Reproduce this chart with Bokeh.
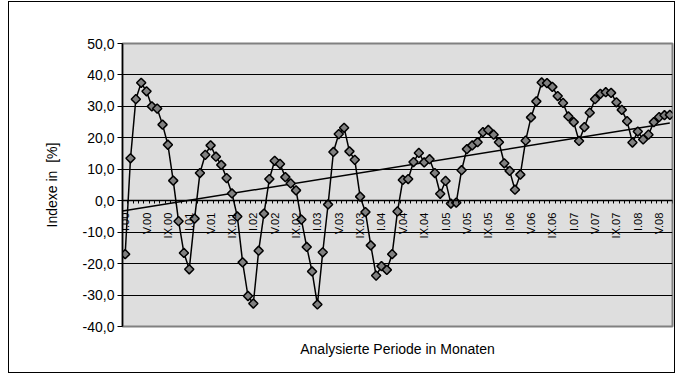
import numpy as np
from bokeh.plotting import figure
from bokeh.models import FixedTicker, LinearAxis, Range1d, Title
from bokeh.embed import file_html
from bokeh.resources import INLINE

# monthly index values, I.00 .. VII.08
values = [
    -17.0, 13.5, 32.3, 37.5, 34.8, 30.0, 29.3, 24.2, 17.8, 6.4, -6.5, -16.6,
    -21.8, -5.7, 8.8, 14.6, 17.6, 14.0, 11.4, 7.2, 2.3, -5.0, -19.6, -30.3,
    -32.7, -15.9, -4.1, 6.9, 12.7, 11.7, 7.5, 5.5, 3.3, -6.0, -14.7, -22.5,
    -33.0, -16.4, -1.2, 15.5, 21.2, 23.2, 15.7, 13.0, 1.3, -3.6, -14.2, -23.8,
    -20.8, -22.0, -17.0, -3.4, 6.6, 6.9, 12.3, 15.2, 12.2, 13.2, 8.8, 2.2,
    6.3, -0.9, -0.6, 9.7, 16.4, 17.6, 18.6, 21.8, 22.5, 21.0, 18.6, 11.9,
    9.5, 3.5, 8.3, 19.1, 26.5, 31.6, 37.6, 37.4, 36.2, 33.3, 31.1, 26.8,
    25.0, 19.0, 23.4, 28.0, 32.3, 34.0, 34.5, 34.3, 31.3, 28.9, 25.3, 18.5,
    22.0, 19.5, 21.0, 25.0, 26.6, 27.2, 27.3,
]
tick_labels = [
    "I.00", "V.00", "IX.00", "I.01", "V.01", "IX.01", "I.02", "V.02", "IX.02",
    "I.03", "V.03", "IX.03", "I.04", "V.04", "IX.04", "I.05", "V.05", "IX.05",
    "I.06", "V.06", "IX.06", "I.07", "V.07", "IX.07", "I.08", "V.08",
]
y_ticks = [-40, -30, -20, -10, 0, 10, 20, 30, 40, 50]
y_tick_labels = ["-40,0", "-30,0", "-20,0", "-10,0", "0,0", "10,0", "20,0", "30,0", "40,0", "50,0"]
x_title = "Analysierte Periode in Monaten"
y_title = "Indexe in\u00a0 [%]"

FONT = "Liberation Sans"
n = len(values)
xs = np.arange(n) + 0.5
ys = np.array(values)

p = figure(width=676, height=374, x_range=Range1d(0, n), y_range=Range1d(-40, 50),
           output_backend="svg", toolbar_location=None, x_axis_location=None,
           min_border_left=122, min_border_right=4, min_border_top=43, min_border_bottom=48)

# outer chart border drawn as host background (canvas border area transparent)
g = "linear-gradient(#000,#000)"
p.styles = {"background": (
    f"{g} 8px 1px / 667px 1px no-repeat, "
    f"{g} 8px 372px / 667px 1px no-repeat, "
    f"{g} 8px 1px / 1px 372px no-repeat, "
    f"{g} 674px 1px / 1px 372px no-repeat, white")}
p.border_fill_color = None
p.background_fill_color = "#dedede"
p.outline_line_color = "#808080"
p.outline_line_width = 2

# y axis
yt = FixedTicker(ticks=y_ticks)
ya = p.yaxis[0]
ya.ticker = yt
ya.major_label_overrides = {t: l for t, l in zip(y_ticks, y_tick_labels)}
ya.major_label_text_font = FONT
ya.major_label_text_font_size = "14px"
ya.major_label_text_color = "black"
ya.major_tick_out = 5
ya.major_tick_in = 0
ya.minor_tick_out = 0
ya.minor_tick_in = 0
ya.axis_line_color = "black"
ya.axis_line_width = 1.5
ya.major_label_standoff = 3
ya.axis_label = y_title
ya.axis_label_text_font = FONT
ya.axis_label_text_font_size = "14px"
ya.axis_label_text_font_style = "normal"
ya.axis_label_text_color = "black"
ya.axis_label_standoff = 20

p.ygrid.ticker = yt
p.ygrid.grid_line_color = "black"
p.ygrid.grid_line_width = 1
p.xgrid.visible = False

# category axis crossing at 0
label_pos = [float(i) + 0.5 for i in range(0, n, 4)]
xa = LinearAxis(fixed_location=0,
                ticker=FixedTicker(ticks=label_pos, minor_ticks=list(range(0, n + 1))),
                major_label_overrides={pos: lab for pos, lab in zip(label_pos, tick_labels)},
                major_label_orientation=np.pi / 2,
                major_tick_out=0, major_tick_in=0,
                minor_tick_out=3, minor_tick_in=0,
                axis_line_color="black", axis_line_width=1.5,
                major_label_text_font=FONT, major_label_text_font_size="11px",
                major_label_text_color="black", major_label_standoff=9)
p.add_layout(xa, "below")

# trend line (linear regression of the series)
k, d = np.polyfit(np.arange(n), ys, 1)
tx = np.array([0.0, n - 0.5])
p.line(tx, k * (tx - 0.5) + d, line_color="black", line_width=1.5)

p.line(xs, ys, line_color="black", line_width=1.5)
p.scatter(xs, ys, marker="square", angle=np.pi / 4, size=6.5,
          fill_color="#808080", line_color="black", line_width=1.5)

p.add_layout(Title(text=x_title, align="center", text_font=FONT, text_font_size="14px",
                   text_font_style="normal", text_color="black", standoff=24), "below")

open("out.html", "w").write(file_html(p, INLINE))
